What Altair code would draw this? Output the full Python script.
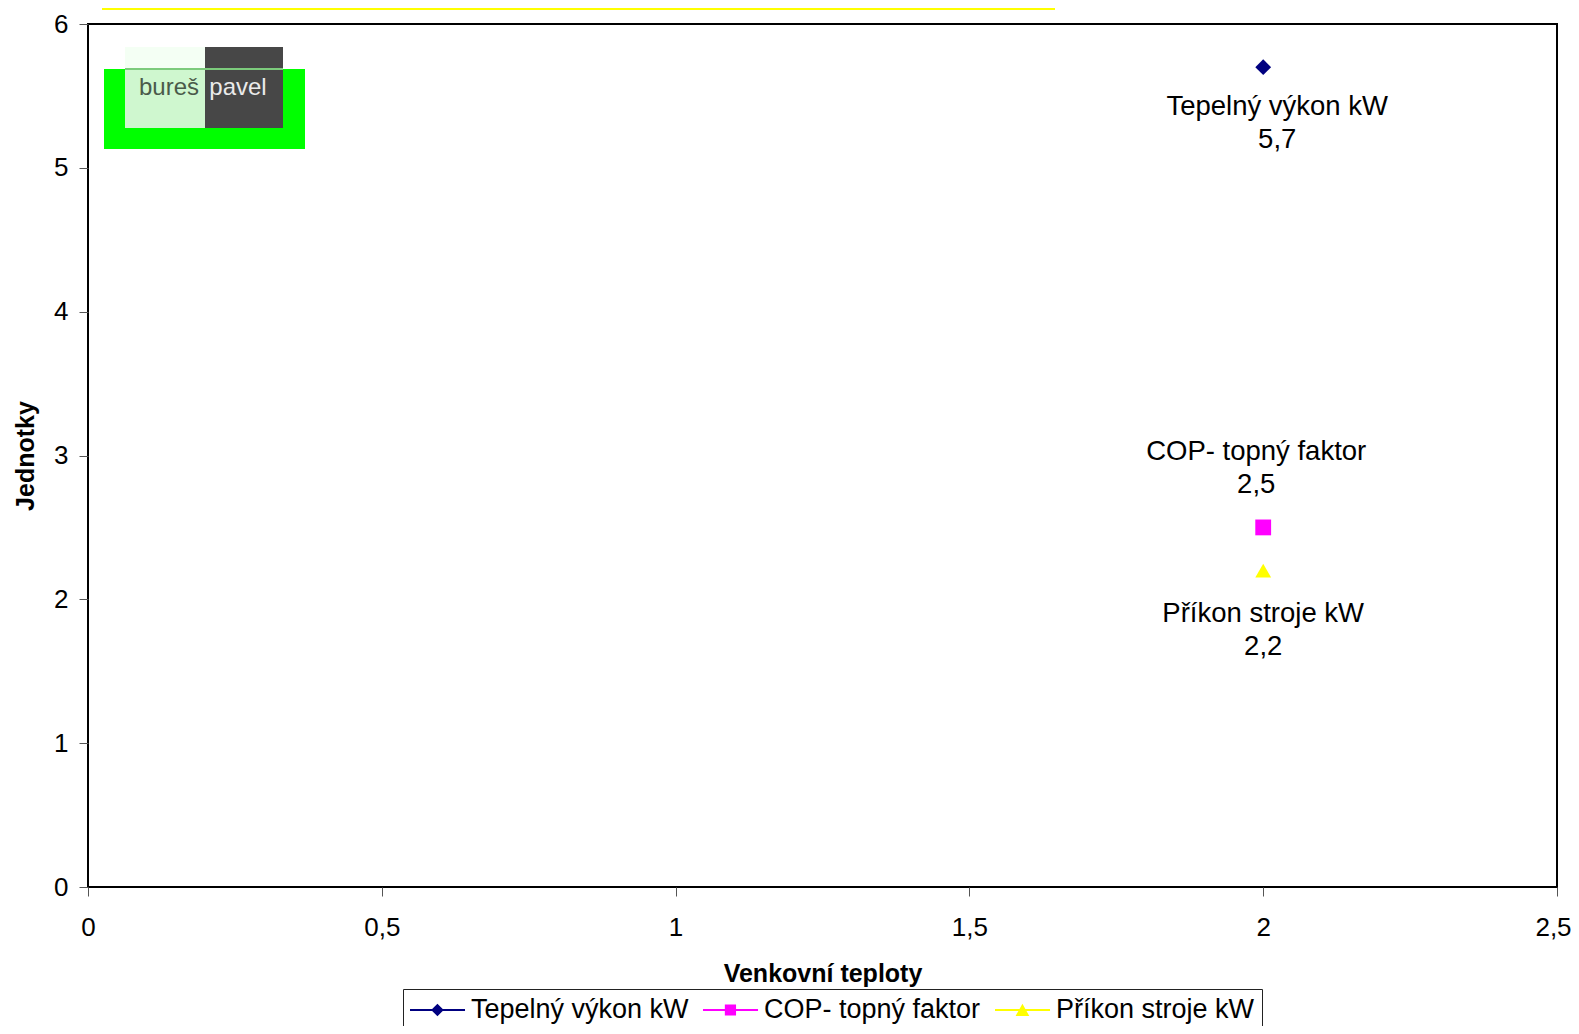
import altair as alt
import pandas as pd

# ---- data ----
series = ["Tepelný výkon kW", "COP- topný faktor", "Příkon stroje kW"]
x_values = [2, 2, 2]
y_values = [5.7, 2.5, 2.2]
x_ticks = [0, 0.5, 1, 1.5, 2, 2.5]
y_ticks = [0, 1, 2, 3, 4, 5, 6]

colors = ["#000080", "#FF00FF", "#FFFF00"]
point_shapes = ["diamond", "square", "triangle-up"]
# legend symbols: a line with the series marker (symbol radius r = 14 px)
bar = "M-1,-0.07L2.93,-0.07L2.93,0.07L-1,0.07Z "
legend_shapes = [
    bar + "M0.96,-0.45L1.41,0L0.96,0.45L0.51,0Z",
    bar + "M0.56,-0.4L1.36,-0.4L1.36,0.4L0.56,0.4Z",
    bar + "M0.96,-0.45L1.45,0.42L0.47,0.42Z",
]

df = pd.DataFrame({"series": series, "x": x_values, "y": y_values})
FONT = "Liberation Sans"

xscale = alt.Scale(domain=[0, 2.5], nice=False)
yscale = alt.Scale(domain=[0, 6], nice=False)

x_enc = alt.X("x:Q", scale=xscale, axis=alt.Axis(
    values=x_ticks, title="Venkovní teploty", grid=False, domain=False,
    labelExpr="replace(toString(datum.value), '.', ',')",
    labelOffset={"condition": {"test": "datum.value == 2.5", "value": -4}, "value": 0},
    labelFlush=False, tickSize=9, tickColor="#555", tickWidth=1,
    labelPadding=18, labelFontSize=26, labelColor="black",
    titleFontSize=25, titleFontWeight="bold", titleColor="black",
    titlePadding=21, labelFont=FONT, titleFont=FONT))
y_enc = alt.Y("y:Q", scale=yscale, axis=alt.Axis(
    values=y_ticks, format="d", title="Jednotky", grid=False, domain=False,
    labelFlush=False, tickSize=9, tickColor="#555", tickWidth=1,
    labelPadding=11, labelFontSize=26, labelColor="black",
    titleFontSize=25, titleFontWeight="bold", titleColor="black",
    titlePadding=15, labelFont=FONT, titleFont=FONT))

base = alt.Chart(df)

points = base.mark_point(filled=True, size=250, opacity=1).encode(
    x=x_enc, y=y_enc,
    color=alt.Color("series:N", scale=alt.Scale(domain=series, range=colors), legend=None),
    shape=alt.Shape("series:N", scale=alt.Scale(domain=series, range=point_shapes), legend=None),
)

legend_layer = base.mark_point(filled=True, opacity=0).encode(
    x=alt.X("x:Q", scale=xscale),
    y=alt.Y("y:Q", scale=yscale),
    color=alt.Color("series:N", scale=alt.Scale(domain=series, range=colors),
                    sort=series,
                    legend=alt.Legend(title=None, orient="none", legendX=315, legendY=965,
                                      direction="horizontal", symbolSize=784,
                                      symbolStrokeWidth=0, symbolOpacity=1,
                                      labelFontSize=27, labelFont=FONT, labelColor="black",
                                      labelLimit=500, labelOffset=33, columnPadding=14,
                                      padding=7, strokeColor="#222", fillColor="white")),
    shape=alt.Shape("series:N", scale=alt.Scale(domain=series, range=legend_shapes),
                    sort=series, legend=None),
)

# point labels: name line and value line, per series
offsets = {
    series[0]: (14, 40, 73),
    series[1]: (-7, -75, -42),
    series[2]: (0, 43, 76),
}
labels = []
for s in series:
    dx, dy1, dy2 = offsets[s]
    sub = base.transform_filter(alt.datum.series == s)
    labels.append(sub.mark_text(fontSize=27.5, font=FONT, color="black", dx=dx, dy=dy1,
                                baseline="middle", align="center").encode(
        x=alt.X("x:Q", scale=xscale), y=alt.Y("y:Q", scale=yscale), text="series:N"))
    labels.append(sub.transform_calculate(
        val="replace(format(datum.y, '.1f'), '.', ',')").mark_text(
        fontSize=27.5, font=FONT, color="black", dx=dx, dy=dy2,
        baseline="middle", align="center").encode(
        x=alt.X("x:Q", scale=xscale), y=alt.Y("y:Q", scale=yscale), text="val:N"))

# decorative logo (top-left) and yellow strip at the top
one = alt.Chart(pd.DataFrame({"k": [0]}))
def rect(x1, x2, y1, y2, color):
    return one.mark_rect(color=color).encode(
        x=alt.value(x1), x2=alt.value(x2), y=alt.value(y1), y2=alt.value(y2))

logo = [
    rect(16, 217, 45, 125, "#00FF00"),
    rect(37, 117, 23, 104, "#CFF7CF"),
    rect(37, 117, 23, 45, "#F4FFF4"),
    rect(117, 195, 23, 104, "#474747"),
    rect(37, 195, 44, 46, "#7CCB7C"),
    one.mark_text(text="bureš", fontSize=24, font=FONT, color="#4A5A4A",
                  baseline="alphabetic", align="center").encode(
        x=alt.value(81), y=alt.value(71)),
    one.mark_text(text="pavel", fontSize=24, font=FONT, color="#EAEAEA",
                  baseline="alphabetic", align="center").encode(
        x=alt.value(150), y=alt.value(71)),
    rect(14, 967, -16, -14, "#FFFF00"),
]

chart = alt.layer(*logo, legend_layer, points, *labels).resolve_scale(
    color="independent", shape="independent"
).properties(
    width=1469, height=863,
    autosize=alt.AutoSizeParams(type="none"),
    padding={"left": 80, "top": 16, "right": 14, "bottom": 139},
).configure(font=FONT).configure_view(stroke="black", strokeWidth=2)

chart.save("out.html", embed_options={"renderer": "svg", "actions": False})
